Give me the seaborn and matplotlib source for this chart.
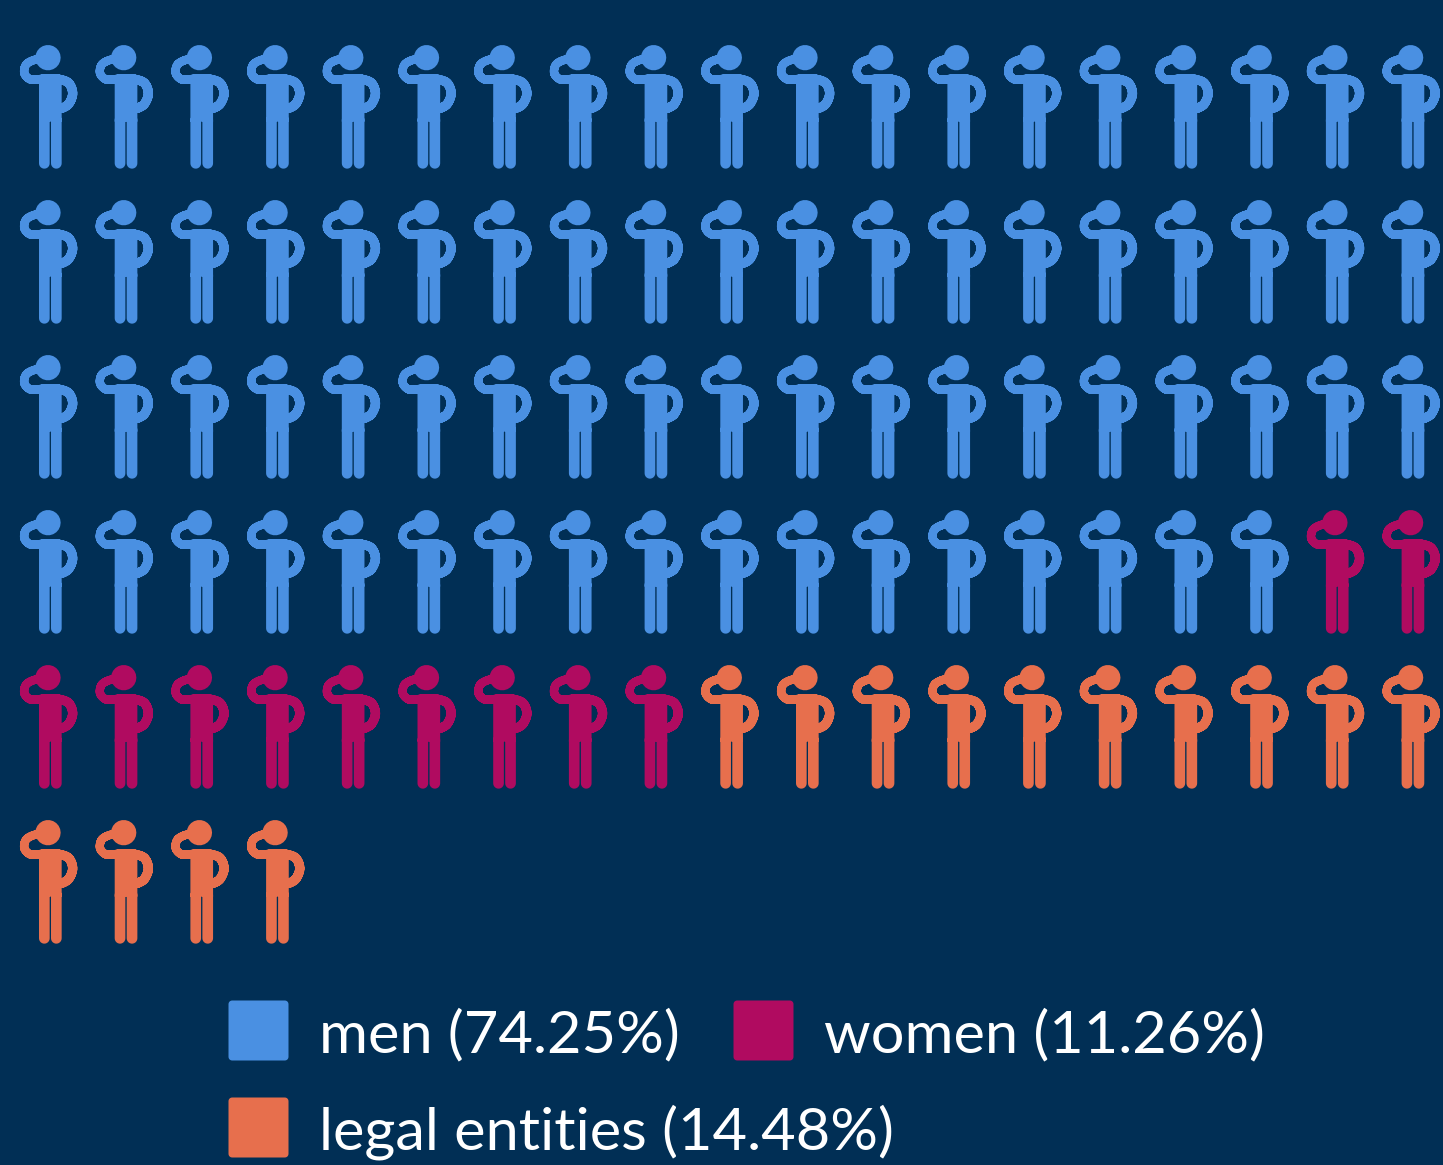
import numpy as np
import pandas as pd
import seaborn as sns
from matplotlib import pyplot as plt
from matplotlib.lines import Line2D
from matplotlib.path import Path

groups = ['men', 'women', 'legal entities']
counts = [74, 11, 14]
shares = ['74.25', '11.26', '14.48']
colors = ['#4A90E2', '#B00B60', '#E76F4D']
per_row = 19

bg = '#012F55'
sns.set_theme(style='white')
plt.rcParams['font.family'] = ['Lato', 'Open Sans', 'DejaVu Sans']


# one rounded stroke piece, always same winding so pieces merge when filled
def capsule(p0, p1, w):
    p0, p1 = np.array(p0, float), np.array(p1, float)
    a = np.arctan2(*(p1 - p0)[::-1])
    t1 = np.linspace(a - np.pi / 2, a + np.pi / 2, 12)
    t0 = np.linspace(a + np.pi / 2, a + 3 * np.pi / 2, 12)
    pts = np.vstack([p1 + w / 2 * np.c_[np.cos(t1), np.sin(t1)],
                     p0 + w / 2 * np.c_[np.cos(t0), np.sin(t0)]])
    return pts


def curve(ctrl, w):
    # smooth polyline through control points (Catmull-Rom)
    ctrl = np.array(ctrl, float)
    c = np.vstack([ctrl[0], ctrl, ctrl[-1]])
    out = []
    for i in range(len(c) - 3):
        for t in np.linspace(0, 1, 8, endpoint=False):
            out.append(0.5 * (2 * c[i + 1] + (c[i + 2] - c[i]) * t
                              + (2 * c[i] - 5 * c[i + 1] + 4 * c[i + 2] - c[i + 3]) * t ** 2
                              + (3 * c[i + 1] - c[i] - 3 * c[i + 2] + c[i + 3]) * t ** 3))
    out.append(ctrl[-1])
    return [capsule(out[i], out[i + 1], w) for i in range(len(out) - 1)]


def person_marker():
    # drawn in zoomed pixel units, y down
    parts = [capsule((144, 83), (144, 83.01), 76)]
    parts += curve([(125, 88), (102, 90), (78, 104), (73, 130), (90, 148), (112, 148), (140, 145), (170, 147)], 25)
    parts += curve([(170, 146), (205, 158), (218, 190), (206, 222), (185, 235)], 28)
    parts.append(np.array([(117, 150), (185, 150), (185, 275), (117, 275)], float))
    parts.append(np.array([(130, 133), (178, 133), (185, 150), (117, 150)], float))
    parts.append(capsule((133, 270), (133, 400), 32))
    parts.append(capsule((169, 270), (169, 400), 32))
    verts, codes = [], []
    for p in parts:
        p = p.copy()
        x, y = p[:, 0], p[:, 1]
        area = np.sum(x * np.roll(y, -1) - np.roll(x, -1) * y)
        if area < 0:
            p = p[::-1]
        p = p / 3.0
        p = np.c_[p[:, 0] - 48.5, -(p[:, 1] + 30 - 106.5)]
        verts.append(np.vstack([p, p[0]]))
        codes += [Path.MOVETO] + [Path.LINETO] * (len(p) - 1) + [Path.CLOSEPOLY]
    return Path(np.vstack(verts), codes)


def square_marker():
    r = 0.12
    t = np.linspace(0, np.pi / 2, 6)
    arc = r * np.c_[np.cos(t), np.sin(t)]
    pts = np.vstack([arc + (1 - r, 1 - r),
                     arc @ [[0, 1], [-1, 0]] + (-1 + r, 1 - r),
                     -arc + (-1 + r, -1 + r),
                     arc @ [[0, -1], [1, 0]] + (1 - r, -1 + r)])
    return Path(np.vstack([pts, pts[0]]), closed=True)


df = pd.DataFrame({'group': np.repeat(groups, counts)})
df['col'] = df.index % per_row
df['row'] = df.index // per_row

marker = person_marker()
half = np.abs(marker.vertices).max()
size = (2 * half * 0.72) ** 2

fig = plt.figure(figsize=(14.43, 11.65), dpi=100, facecolor=bg)
ax = fig.add_axes([0, 0, 1, 1], facecolor=bg)
sns.scatterplot(data=df, x='col', y='row', hue='group', hue_order=groups, palette=colors,
                marker=marker, s=size, linewidth=0, legend=False, ax=ax)
dx, dy = 75.7, 155
ax.set_xlim(-48.5 / dx, (1443 - 48.5) / dx)
ax.set_ylim((1165 - 106.5) / dy, -106.5 / dy)
ax.axis('off')

handles = [Line2D([], [], ls='', marker=square_marker(), markersize=60 * 0.72, markerfacecolor=colors[i],
                  markeredgewidth=0, label=f'{groups[i]} ({shares[i]}%)') for i in range(3)]
legend_kw = dict(loc='center left', frameon=False, fontsize=42.8, labelcolor='white', handlelength=1.0,
                 handletextpad=0.53, columnspacing=0.9, borderpad=0, borderaxespad=0)
# two rows with their own column widths, so women stays next to men
leg1 = ax.legend(handles=handles[:2], ncol=2, bbox_to_anchor=(228 / 1443, 1 - 1034 / 1165), **legend_kw)
ax.add_artist(leg1)
leg2 = ax.legend(handles=handles[2:], bbox_to_anchor=(228 / 1443, 1 - 1130 / 1165), **legend_kw)
for t in leg1.get_texts() + leg2.get_texts():
    t.set_position((0, -2))

plt.savefig('out.png', dpi=100, facecolor=bg)
plt.close()
